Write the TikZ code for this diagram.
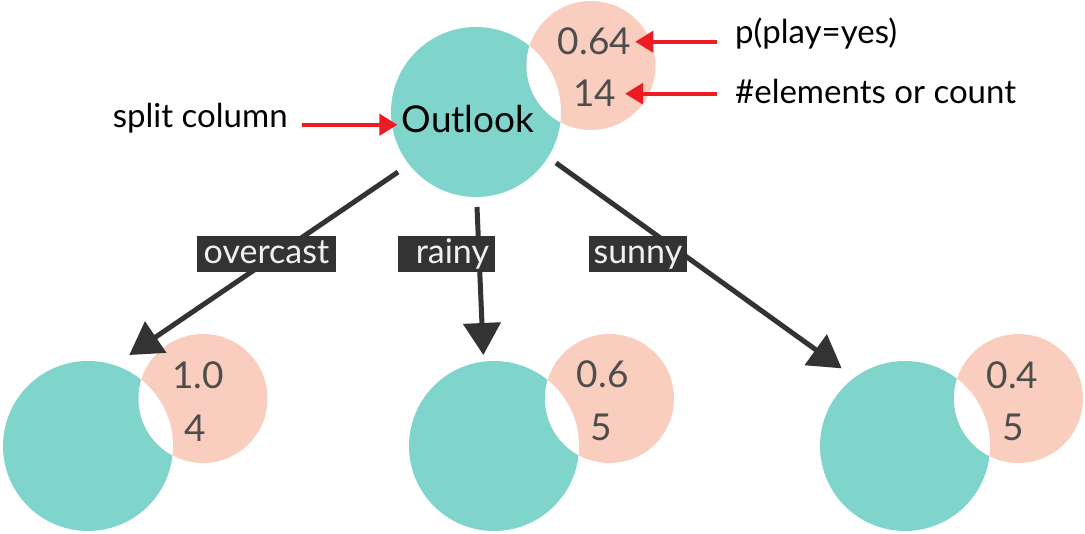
\documentclass[tikz,border=0pt]{standalone}
\usepackage{fontspec}
\setmainfont{Lato}
\usetikzlibrary{arrows.meta,calc}
\definecolor{tealc}{RGB}{127,212,204}
\definecolor{peachc}{RGB}{250,206,190}
\definecolor{darkc}{RGB}{51,51,51}
\definecolor{numc}{RGB}{77,77,77}
\definecolor{redc}{RGB}{237,28,36}
\tikzset{
  tealcirc/.style={circle,fill=tealc,minimum size=170pt,inner sep=0pt,outer sep=0pt},
  peachcirc/.style={circle,fill=peachc,minimum size=129pt,inner sep=0pt,outer sep=0pt},
  numtxt/.style={anchor=base,inner sep=0pt,text=numc,font=\fontsize{37}{37}\selectfont},
  lbltxt/.style={anchor=base west,inner sep=0pt,text=black,font=\fontsize{33}{33}\selectfont},
  edgelbl/.style={anchor=base,fill=darkc,text=white!94!black,inner xsep=0pt,inner ysep=0pt,
    text height=27.3pt,text depth=8.7pt,font=\fontsize{34}{34}\selectfont},
  edge/.style={draw=darkc,line width=5pt,-{Triangle[length=32pt,width=37pt]}},
  redarr/.style={draw=redc,line width=4pt,-{Triangle[length=18pt,width=21pt]}}
}
\begin{document}
\begin{tikzpicture}[x=1pt,y=1pt]
\useasboundingbox (0,0) rectangle (1085,534);
% circles
\node[tealcirc] (t0) at (476,422) {};
\node[tealcirc] (t1) at (88,88) {};
\node[tealcirc] (t2) at (494,88) {};
\node[tealcirc] (t3) at (905,88) {};
\node[peachcirc] (p0) at (591,468.5) {};
\node[peachcirc] (p1) at (203,135.5) {};
\node[peachcirc] (p2) at (609.5,135.5) {};
\node[peachcirc] (p3) at (1018.5,135.5) {};
% white lenses
\foreach \t/\p in {t0/p0,t1/p1,t2/p2,t3/p3}{
  \begin{scope}
    \clip (\t.center) circle (85);
    \fill[white] (\p.center) circle (64.5);
  \end{scope}
}
% texts in circles
\node[anchor=base,inner sep=0pt,font=\fontsize{37}{37}\selectfont] (outlk) at (468,401) {Outlook};
\node[numtxt] (n0a) at (594.5,479) {0.64};
\node[numtxt] (n0b) at (594.5,427) {14};
\node[numtxt] (n1a) at (198,145) {1.0};
\node[numtxt] (n1b) at (195.5,92.3) {4};
\node[numtxt] (n2a) at (602.7,146) {0.6};
\node[numtxt] (n2b) at (601.7,93.3) {5};
\node[numtxt] (n3a) at (1012.5,145) {0.4};
\node[numtxt] (n3b) at (1013,93) {5};
% annotation labels
\node[lbltxt] (split) at (112.7,406.7) {split column};
\node[lbltxt] (lab1) at (735,490) {p(play=yes)};
\node[lbltxt] (lab2) at (735,430) {\#elements or count};
\draw[redarr] ($(split.mid east)+(14,0)$) -- ($(split.mid east -| outlk.west)+(-4,0)$);
\draw[redarr] ($(lab1.west |- n0a.center)+(-18,0)$) -- ($(n0a.east)+(4,0)$);
\draw[redarr] ($(lab2.west |- n0b.center)+(-18,0)$) -- ($(n0b.east)+(9,0)$);
% edges
\draw[edge] ($(t0.center)+(217.6:98.4)$) -- ($(t1.center)+(65.6:99.9)$);
\draw[edge] ($(t0.center)+(270.6:95)$) -- ($(t2.center)+(96.7:91.6)$);
\draw[edge] ($(t0.center)+(-32.5:94.9)$) -- ($(t3.center)+(129.2:100.2)$);
% edge labels
\node[edgelbl,minimum width=139pt] (e1) at (266.5,270.7) {overcast};
\node[edgelbl,minimum width=97.3pt] (e2) at (446.4,270.7) {\hspace{12pt}rainy};
\node[edgelbl,minimum width=97.7pt] (e3) at (637.9,270.7) {sunny};
\end{tikzpicture}
\end{document}
